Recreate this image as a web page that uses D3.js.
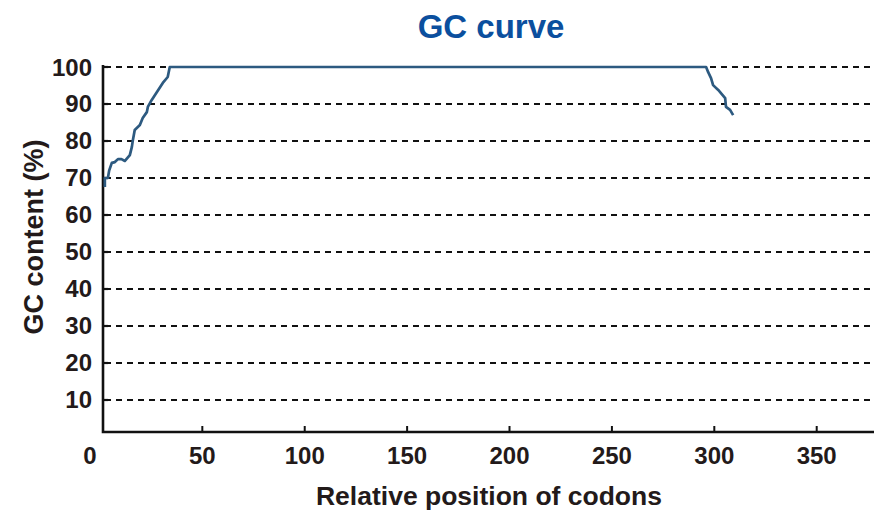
<!DOCTYPE html>
<html>
<head>
<meta charset="utf-8">
<script src="https://cdn.jsdelivr.net/npm/d3@7"></script>
<style>
  body { margin: 0; background: #fff; }
  svg { display: block; font-family: "Liberation Sans", Arial, sans-serif; font-weight: bold; }
</style>
</head>
<body>
<svg id="chart" width="874" height="511"></svg>
<script>
const title = "GC curve";
const xLabel = "Relative position of codons";
const yLabel = "GC content (%)";
const xTicks = [0, 50, 100, 150, 200, 250, 300, 350];
const yTicks = [10, 20, 30, 40, 50, 60, 70, 80, 90, 100];
const positions = [2.4, 2.4, 3.9, 4.5, 5.8, 7.3, 8.8, 10.5, 12.2, 14.6, 15.6, 16.1, 17, 19.5, 20.9, 22.9, 23.4, 25.3, 28, 30.7, 33.1, 34.1, 296, 297, 298.4, 299.4, 301.9, 305.3, 305.7, 307.7, 309.2];
const gcContent = [67.6, 70, 70, 72, 74.1, 74.3, 75.1, 75.1, 74.6, 76.2, 78.4, 80.3, 83, 84.3, 86.2, 87.8, 89.2, 91.1, 93.4, 95.7, 97.3, 100, 100, 98.6, 97, 95.1, 93.8, 91.6, 89.2, 88.4, 87];

const svg = d3.select("#chart");
const x = d3.scaleLinear().domain([1.5, 377]).range([103, 872]);
const y = d3.scaleLinear().domain([1.35, 100]).range([432, 67]);

// gridlines
svg.append("g").selectAll("line").data(yTicks).join("line")
  .attr("x1", x(1.5) + 2).attr("x2", 872)
  .attr("y1", d => y(d)).attr("y2", d => y(d))
  .attr("stroke", "#111").attr("stroke-width", 2.2)
  .attr("stroke-dasharray", "6,5");

// y ticks (inward)
svg.append("g").selectAll("line").data(yTicks).join("line")
  .attr("x1", x(1.5)).attr("x2", x(1.5) + 5)
  .attr("y1", d => y(d)).attr("y2", d => y(d))
  .attr("stroke", "#111").attr("stroke-width", 2.2);

// x ticks (upward)
svg.append("g").selectAll("line").data(xTicks.filter(d => d > 0)).join("line")
  .attr("x1", d => x(d)).attr("x2", d => x(d))
  .attr("y1", y(1.35)).attr("y2", y(1.35) - 6)
  .attr("stroke", "#111").attr("stroke-width", 2);

// axes lines
svg.append("path")
  .attr("d", `M${x(1.5)},${y(100) - 2}V${y(1.35)}H874`)
  .attr("fill", "none").attr("stroke", "#111").attr("stroke-width", 2.6);

// curve
const pts = positions.map((p, i) => [p, gcContent[i]]);
svg.append("path").datum(pts)
  .attr("d", d3.line().x(d => x(d[0])).y(d => y(d[1])))
  .attr("fill", "none").attr("stroke", "#2d5a80").attr("stroke-width", 2.7)
  .attr("stroke-linejoin", "round");

// tick labels
svg.append("g").selectAll("text").data(yTicks).join("text")
  .attr("x", 92).attr("y", d => y(d) + 8.5)
  .attr("text-anchor", "end").attr("font-size", 24).attr("fill", "#231a1a")
  .text(d => d);
svg.append("g").selectAll("text").data(xTicks).join("text")
  .attr("x", d => d === 0 ? x(d) - 10 : x(d))
  .attr("y", 464)
  .attr("text-anchor", "middle").attr("font-size", 24).attr("fill", "#231a1a")
  .text(d => d);

// labels
svg.append("text").attr("x", 489).attr("y", 505).attr("text-anchor", "middle")
  .attr("font-size", 26.5).attr("fill", "#231a1a").text(xLabel);
svg.append("text").attr("transform", "translate(43,237) rotate(-90)")
  .attr("text-anchor", "middle").attr("font-size", 27).attr("fill", "#231a1a").text(yLabel);
svg.append("text").attr("x", 491).attr("y", 38).attr("text-anchor", "middle")
  .attr("font-size", 33).attr("fill", "#0b4f9e").text(title);
</script>
</body>
</html>
